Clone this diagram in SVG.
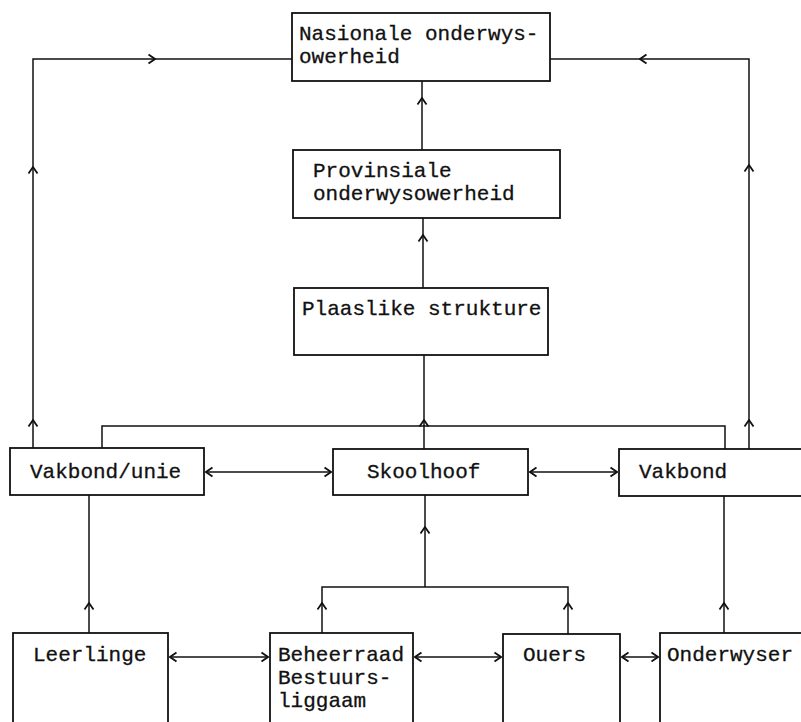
<svg xmlns="http://www.w3.org/2000/svg" width="801" height="722" viewBox="0 0 801 722">
<defs>
<marker id="ah" viewBox="-8 -6 9 12" markerWidth="9" markerHeight="12" refX="0" refY="0" orient="auto-start-reverse" markerUnits="userSpaceOnUse">
<path d="M-6.5,-4.5 L0,0 L-6.5,4.5" fill="none" stroke="#111" stroke-width="1.8"/>
</marker>
<style>
.box{fill:#fff;stroke:#111;stroke-width:1.8}
.t{font-family:"Liberation Mono","Courier New",monospace;font-size:21px;fill:#111;stroke:#111;stroke-width:0.3}
.c{fill:none;stroke:#111;stroke-width:1.5}
.a{marker-end:url(#ah)}
.d{marker-start:url(#ah);marker-end:url(#ah)}
</style>
</defs>
<g id="connectors">
<path class="c a" d="M33,448 V420"/>
<path class="c a" d="M33,420 V167"/>
<path class="c a" d="M33,167 V59 H155"/>
<path class="c" d="M155,59 H292"/>
<path class="c a" d="M749,449 V420"/>
<path class="c a" d="M749,420 V165"/>
<path class="c a" d="M749,165 V59 H640"/>
<path class="c" d="M640,59 H550"/>
<path class="c a" d="M422,150 V98"/>
<path class="c" d="M422,98 V81"/>
<path class="c a" d="M423,288 V235"/>
<path class="c" d="M423,235 V218"/>
<path class="c a" d="M424,449 V420"/>
<path class="c" d="M424,420 V355"/>
<path class="c" d="M102,448 V426 H725 V449"/>
<path class="c d" d="M206,472 H331"/>
<path class="c d" d="M530,472 H617"/>
<path class="c a" d="M89,633 V603"/>
<path class="c" d="M89,603 V495"/>
<path class="c a" d="M322,633 V603"/>
<path class="c a" d="M568,634 V603"/>
<path class="c" d="M322,603 V587 H568 V603"/>
<path class="c a" d="M425,587 V527"/>
<path class="c" d="M425,527 V495"/>
<path class="c a" d="M724,633 V603"/>
<path class="c" d="M724,603 V496"/>
<path class="c d" d="M170,657 H268"/>
<path class="c d" d="M415,657 H501"/>
<path class="c d" d="M622,657 H658"/>
</g>
<g id="nasionale">
<rect class="box" x="292" y="13" width="258" height="68"/>
<text class="t" x="299" y="40">Nasionale onderwys-</text>
<text class="t" x="299" y="63">owerheid</text>
</g>
<g id="provinsiale">
<rect class="box" x="293" y="150" width="267" height="68"/>
<text class="t" x="313" y="177">Provinsiale</text>
<text class="t" x="313" y="200">onderwysowerheid</text>
</g>
<g id="plaaslike">
<rect class="box" x="294" y="288" width="254" height="67"/>
<text class="t" x="302" y="315">Plaaslike strukture</text>
</g>
<g id="vakbond-unie">
<rect class="box" x="10" y="448" width="194" height="47"/>
<text class="t" x="30" y="478">Vakbond/unie</text>
</g>
<g id="skoolhoof">
<rect class="box" x="333" y="449" width="195" height="46"/>
<text class="t" x="367" y="478">Skoolhoof</text>
</g>
<g id="vakbond">
<rect class="box" x="619" y="449" width="192" height="47"/>
<text class="t" x="639" y="478">Vakbond</text>
</g>
<g id="leerlinge">
<rect class="box" x="13" y="633" width="155" height="100"/>
<text class="t" x="33" y="661">Leerlinge</text>
</g>
<g id="beheerraad">
<rect class="box" x="270" y="633" width="143" height="100"/>
<text class="t" x="278" y="661">Beheerraad</text>
<text class="t" x="278" y="684">Bestuurs-</text>
<text class="t" x="278" y="707">liggaam</text>
</g>
<g id="ouers">
<rect class="box" x="503" y="634" width="117" height="100"/>
<text class="t" x="523" y="661">Ouers</text>
</g>
<g id="onderwyser">
<rect class="box" x="660" y="633" width="151" height="100"/>
<text class="t" x="667" y="661">Onderwyser</text>
</g>
</svg>
